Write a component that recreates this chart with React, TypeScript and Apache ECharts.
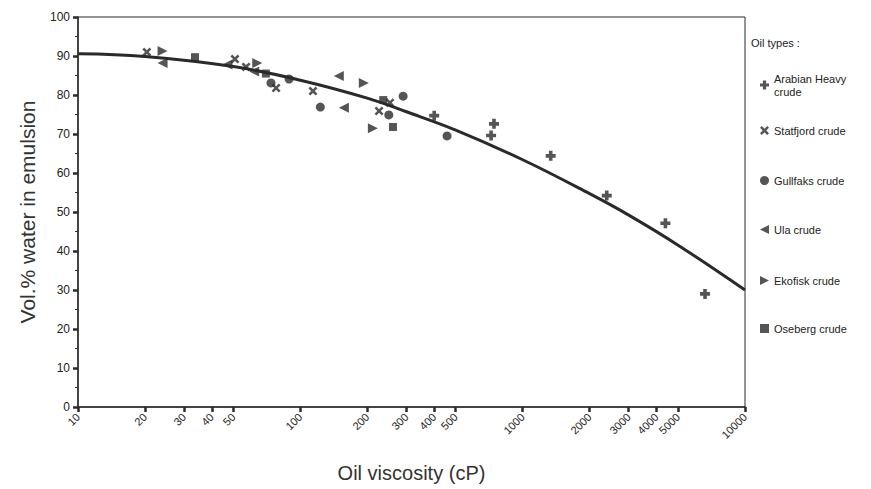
import React, { useEffect, useRef } from "react";
import * as echarts from "echarts";

const X_TICKS = [10, 20, 30, 40, 50, 100, 200, 300, 400, 500, 1000, 2000, 3000, 4000, 5000, 10000];

const arabianX = [400, 743, 721, 1337, 2389, 4385, 6610];
const arabianY = [74.7, 72.6, 69.6, 64.4, 54.2, 47.1, 29.0];

const statfjordX = [20.4, 50.8, 57, 77.8, 114, 226, 253];
const statfjordY = [91.0, 89.2, 87.2, 81.8, 81.0, 75.9, 78.0];

const gullfaksX = [73.8, 89, 123, 250, 290, 457];
const gullfaksY = [83.1, 84.1, 76.9, 74.9, 79.7, 69.5];

const ulaX = [24, 47, 62, 149, 157];
const ulaY = [88.2, 87.8, 86.0, 84.9, 76.7];

const ekofiskX = [24, 64, 193, 212];
const ekofiskY = [91.3, 88.2, 83.1, 71.5];

const osebergX = [33.6, 70, 236, 261];
const osebergY = [89.7, 85.5, 78.7, 71.8];

const curveX = [10, 20, 50, 100, 200, 300, 500, 1000, 2000, 3000, 5000, 10000];
const curveY = [90.6, 89.9, 87.3, 83.8, 79.2, 75.7, 71.0, 63.4, 54.7, 49.2, 41.5, 30.0];

const NAMES = [
  "Arabian Heavy crude",
  "Statfjord crude",
  "Gullfaks crude",
  "Ula crude",
  "Ekofisk crude",
  "Oseberg crude",
];

const SYM_PLUS = "path://M3.2,0 H6.8 V3.2 H10 V6.8 H6.8 V10 H3.2 V6.8 H0 V3.2 H3.2 Z";
const SYM_X = "path://M0,2 L2,0 L5,3 L8,0 L10,2 L7,5 L10,8 L8,10 L5,7 L2,10 L0,8 L3,5 Z";
const SYM_LEFT = "path://M0,5 L10,0 L10,10 Z";
const SYM_RIGHT = "path://M10,5 L0,0 L0,10 Z";

const INK = "#2a2a2a";

function pts(xs: number[], ys: number[]) {
  return xs.map((x, i) => [Math.log10(x), ys[i]]);
}

export default function App() {
  const ref = useRef<HTMLDivElement>(null);
  useEffect(() => {
    if (!ref.current) return;
    const chart = echarts.init(ref.current, undefined, { renderer: "svg" });
    const font = "Liberation Sans, Arial, sans-serif";
    const seriesDefs = [
      { name: NAMES[0], data: pts(arabianX, arabianY), symbol: SYM_PLUS, size: 10 },
      { name: NAMES[1], data: pts(statfjordX, statfjordY), symbol: SYM_X, size: 9 },
      { name: NAMES[2], data: pts(gullfaksX, gullfaksY), symbol: "circle", size: 9 },
      { name: NAMES[3], data: pts(ulaX, ulaY), symbol: SYM_LEFT, size: 10 },
      { name: NAMES[4], data: pts(ekofiskX, ekofiskY), symbol: SYM_RIGHT, size: 10 },
      { name: NAMES[5], data: pts(osebergX, osebergY), symbol: "rect", size: 8 },
    ];
    const legendTops = [67, 119, 169, 218, 269, 317];
    chart.setOption({
      animation: false,
      backgroundColor: "#ffffff",
      textStyle: { fontFamily: font },
      grid: {
        left: 78,
        right: 126,
        top: 17,
        bottom: 82,
        show: true,
        borderColor: INK,
        borderWidth: 1,
        backgroundColor: "transparent",
      },
      xAxis: {
        type: "value",
        min: 1,
        max: 4,
        name: "Oil viscosity (cP)",
        nameLocation: "middle",
        nameGap: 56,
        nameTextStyle: { fontSize: 20, color: "#333", fontFamily: font },
        axisLine: { lineStyle: { color: INK, width: 1.5 } },
        axisTick: {
          show: true,
          length: 5,
          lineStyle: { color: INK, width: 2.5 },
          customValues: X_TICKS.map((v) => Math.log10(v)),
        },
        axisLabel: {
          rotate: 45,
          fontSize: 11,
          color: "#222",
          margin: 8,
          customValues: X_TICKS.map((v) => Math.log10(v)),
          formatter: (v: number) => String(Math.round(Math.pow(10, v))),
        },
        splitLine: { show: false },
      },
      yAxis: {
        type: "value",
        min: 0,
        max: 100,
        interval: 10,
        name: "Vol.% water in emulsion",
        nameLocation: "middle",
        nameGap: 40,
        nameTextStyle: { fontSize: 21, color: "#333", fontFamily: font },
        axisLine: { show: true, lineStyle: { color: INK, width: 1.5 } },
        axisTick: { show: true, length: 5, lineStyle: { color: INK, width: 2.5 } },
        minorTick: { show: true, splitNumber: 2, length: 3, lineStyle: { color: INK, width: 1 } },
        axisLabel: { fontSize: 12, color: "#222", margin: 8 },
        splitLine: { show: false },
      },
      legend: seriesDefs.map((s, i) => ({
        data: [s.name],
        orient: "vertical",
        left: 755,
        top: legendTops[i],
        itemWidth: 9,
        itemHeight: 9,
        itemGap: 4,
        selectedMode: false,
        formatter: (n: string) => (n === NAMES[0] ? "Arabian Heavy\ncrude" : n),
        textStyle: { fontSize: 11, color: "#222", fontFamily: font, lineHeight: 13 },
      })),
      graphic: [
        {
          type: "text",
          left: 751,
          top: 37,
          style: { text: "Oil types :", fontSize: 11, fill: "#222", fontFamily: font },
        },
      ],
      series: [
        {
          type: "line",
          name: "curve",
          data: pts(curveX, curveY),
          smooth: 0.4,
          showSymbol: false,
          lineStyle: { color: INK, width: 3 },
          z: 1,
        },
        ...seriesDefs.map((s) => ({
          type: "scatter",
          name: s.name,
          data: s.data,
          symbol: s.symbol,
          symbolSize: s.size,
          itemStyle: { color: INK },
          z: 3,
        })),
      ],
    });
    return () => chart.dispose();
  }, []);
  return (
    <div
      ref={ref}
      style={{ position: "fixed", left: 0, top: 0, width: 871, height: 489 }}
    />
  );
}
